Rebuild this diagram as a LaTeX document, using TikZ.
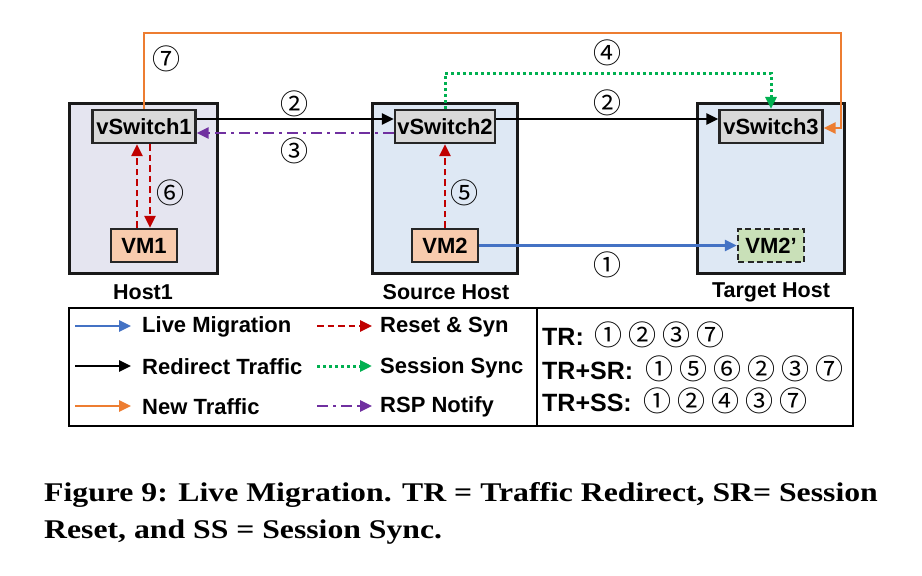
\documentclass[tikz,border=0pt]{standalone}
\usepackage{fontspec}
\usepackage{graphicx}
\usetikzlibrary{arrows.meta}
\setmainfont{Liberation Sans}
\newfontfamily\circfont{Noto Sans CJK JP}
\newfontfamily\capfont{Liberation Serif}
\definecolor{hostA}{HTML}{E5E5F0}
\definecolor{hostB}{HTML}{DEE8F4}
\definecolor{swfill}{HTML}{D9D9D9}
\definecolor{vmfill}{HTML}{F8CBAD}
\definecolor{vmnew}{HTML}{C9E0B8}
\definecolor{corange}{HTML}{ED7D31}
\definecolor{cblue}{HTML}{4472C4}
\definecolor{cred}{HTML}{C00000}
\definecolor{cgreen}{HTML}{00B050}
\definecolor{cpurple}{HTML}{7030A0}
\newcommand{\legnums}[1]{{\fontsize{28}{30}\mdseries\circfont #1}}
\newcommand{\gp}{\hspace{6pt}}
\tikzset{
  host/.style={draw=black!90, line width=3pt, minimum height=170pt, inner sep=0pt},
  sw/.style={draw=black!85, line width=2.2pt, fill=swfill, minimum width=103pt, minimum height=33pt, inner sep=0pt, font=\fontsize{22}{24}\selectfont\bfseries},
  vm/.style={draw=black!85, line width=2.2pt, fill=vmfill, minimum width=66pt, minimum height=33pt, inner sep=0pt, font=\fontsize{22}{24}\selectfont\bfseries},
  lbl/.style={font=\fontsize{21.5}{24}\selectfont\bfseries, inner sep=0pt},
  num/.style={font=\fontsize{28}{30}\selectfont\circfont, inner sep=0pt},
  tip/.style={-{Triangle[length=12pt,width=11pt]}},
  conn/.style={line width=2.6pt, tip},
  reddash/.style={cred, dash pattern=on 6.5pt off 4pt},
  greendot/.style={cgreen, line width=3pt, dash pattern=on 3pt off 3pt},
  purpdash/.style={cpurple, dash pattern=on 11pt off 5pt on 3pt off 5pt},
  legtxt/.style={font=\fontsize{22}{24}\selectfont\bfseries, inner sep=0pt, anchor=west},
  sumtxt/.style={font=\fontsize{25}{27}\selectfont\bfseries, inner sep=0pt, anchor=west},
  legbox/.style={draw=black, line width=2.6pt, minimum height=118pt, inner sep=0pt},
}
\begin{document}
\begin{tikzpicture}[x=1pt,y=-1pt]
\useasboundingbox[fill=white] (0,0) rectangle (922,576);
% hosts
\node[host, fill=hostA, minimum width=148pt] (h1) at (143.5,188.5) {};
\node[host, fill=hostB, minimum width=145pt] (h2) at (445,188.5) {};
\node[host, fill=hostB, minimum width=147pt] (h3) at (771,188.5) {};
\node[lbl] (h1l) at (143,292) {Host1};
\node[lbl] (h2l) at (446,292) {Source Host};
\node[lbl] (h3l) at (771,292) {Target Host};
% switches and vms
\node[sw] (vs1) at (144,126.5) {vSwitch1};
\node[sw, minimum width=100pt] (vs2) at (445,126.5) {vSwitch2};
\node[sw] (vs3) at (771,126.5) {vSwitch3};
\node[vm] (vm1) at (144,245.5) {VM1};
\node[vm] (vm2) at (445,245.5) {VM2};
\node[vm, fill=vmnew, dash pattern=on 6pt off 3.5pt] (vm3) at (771,245.5) {VM2'};
% connectors
\coordinate (oc) at (841,33);
\draw[conn, corange] (vs1.north) |- (oc) |- ([yshift=-1.5pt]vs3.east);
\coordinate (gy) at (0,73);
\draw[conn, greendot] (vs2.north) -- (vs2.north |- gy) -| (vs3.north);
\draw[conn, black] ([yshift=7.5pt]vs1.east) -- ([yshift=7.5pt]vs2.west);
\draw[conn, black] ([yshift=7.5pt]vs2.east) -- ([yshift=7.5pt]vs3.west);
\draw[conn, purpdash] ([yshift=-6.5pt]vs2.west) -- ([yshift=-6.5pt]vs1.east);
\draw[conn, reddash] ([xshift=-7pt]vm1.north) -- ([xshift=-7pt]vs1.south);
\draw[conn, reddash] ([xshift=6pt]vs1.south) -- ([xshift=6pt]vm1.north);
\draw[conn, reddash] (vm2.north) -- (vs2.south);
\draw[conn, cblue] (vm2.east) -- (vm3.west);
% step numbers
\node[num] (n7) at (166,59) {⑦};
\node[num] (n2a) at (294,104) {②};
\node[num] (n3) at (294,151) {③};
\node[num] (n6) at (170,193) {⑥};
\node[num] (n5) at (464,193) {⑤};
\node[num] (n4) at (607,53) {④};
\node[num] (n2b) at (607,103) {②};
\node[num] (n1) at (607,265) {①};
% legend
\node[legbox, minimum width=468pt] (legL) at (303,367) {};
\node[legbox, minimum width=316pt] (legR) at (695,367) {};
\coordinate (a1s) at (75,326); \coordinate (a1e) at (131,326);
\coordinate (a2s) at (75,366); \coordinate (a2e) at (131,366);
\coordinate (a3s) at (75,406); \coordinate (a3e) at (131,406);
\coordinate (b1s) at (317,326); \coordinate (b1e) at (372,326);
\coordinate (b2s) at (317,366); \coordinate (b2e) at (372,366);
\coordinate (b3s) at (317,406); \coordinate (b3e) at (372,406);
\draw[conn, cblue] (a1s) -- (a1e);
\draw[conn, black] (a2s) -- (a2e);
\draw[conn, corange] (a3s) -- (a3e);
\draw[conn, reddash] (b1s) -- (b1e);
\draw[conn, greendot] (b2s) -- (b2e);
\draw[conn, purpdash] (b3s) -- (b3e);
\node[legtxt] (t1) at (142,327) {Live Migration};
\node[legtxt] (t2) at (142,367) {Redirect Traffic};
\node[legtxt] (t3) at (142,407) {New Traffic};
\node[legtxt] (t4) at (380,327) {Reset \& Syn};
\node[legtxt] (t5) at (380,368) {Session Sync};
\node[legtxt] (t6) at (380,407) {RSP Notify};
\node[sumtxt] (r1) at (542,335) {TR:\hspace{11pt}\legnums{①\gp②\gp③\gp⑦}};
\node[sumtxt] (r2) at (542,369) {TR+SR:\hspace{12pt}\legnums{①\gp⑤\gp⑥\gp②\gp③\gp⑦}};
\node[sumtxt] (r3) at (542,401) {TR+SS:\hspace{12pt}\legnums{①\gp②\gp④\gp③\gp⑦}};
% caption
\node[anchor=base west, inner sep=0pt, font=\fontsize{27}{30}\selectfont\capfont\bfseries] (cap1) at (44,501) {\scalebox{1.175}[1]{Figure 9: Live Migration. TR = Traffic Redirect, SR= Session}};
\node[anchor=base west, inner sep=0pt, font=\fontsize{27}{30}\selectfont\capfont\bfseries] (cap2) at (44,538) {\scalebox{1.175}[1]{Reset, and SS = Session Sync.}};
\end{tikzpicture}
\end{document}
